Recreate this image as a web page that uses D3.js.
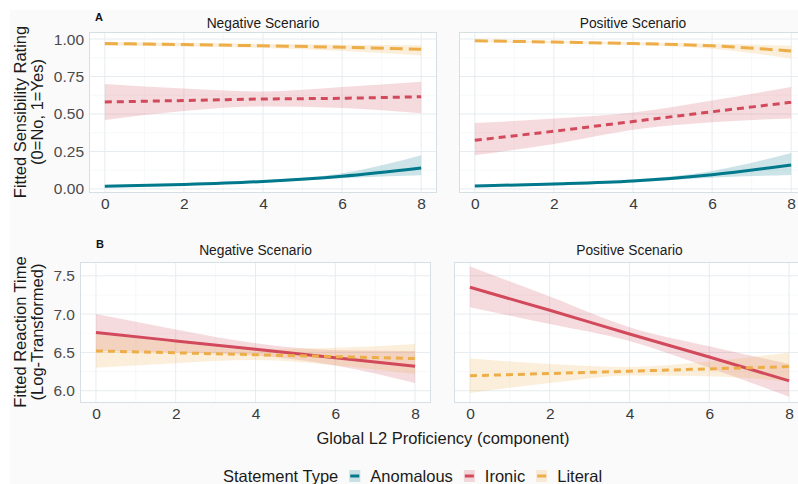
<!DOCTYPE html>
<html>
<head>
<meta charset="utf-8">
<script src="https://cdn.jsdelivr.net/npm/d3@7"></script>
<style>
  body { margin: 0; background: #fff; }
  svg { display: block; font-family: "Liberation Sans", Arial, sans-serif; }
</style>
</head>
<body>
<div class="container"></div>
<script>
// proficiency values where fits were read
const xs = [0, 2, 4, 6, 8];
const xTicks = [0, 2, 4, 6, 8];
const typeNames = ['Anomalous', 'Ironic', 'Literal'];
const colors = ['#00798c', '#d1495b', '#edae49'];

// panel A: fitted sensibility rating
const aTicks = [0, 0.25, 0.5, 0.75, 1];
const aNegAnomFit = [0.018, 0.03, 0.05, 0.085, 0.14];
const aNegAnomLo = [0.012, 0.022, 0.042, 0.072, 0.092];
const aNegAnomHi = [0.024, 0.038, 0.058, 0.105, 0.225];
const aNegIronFit = [0.58, 0.59, 0.6, 0.605, 0.615];
const aNegIronLo = [0.46, 0.52, 0.55, 0.54, 0.505];
const aNegIronHi = [0.7, 0.67, 0.65, 0.68, 0.715];
const aNegLitFit = [0.97, 0.963, 0.955, 0.945, 0.932];
const aNegLitLo = [0.955, 0.95, 0.94, 0.92, 0.89];
const aNegLitHi = [0.98, 0.975, 0.968, 0.962, 0.958];

const aPosAnomFit = [0.02, 0.033, 0.053, 0.095, 0.16];
const aPosAnomLo = [0.013, 0.025, 0.045, 0.075, 0.093];
const aPosAnomHi = [0.028, 0.042, 0.063, 0.12, 0.24];
const aPosIronFit = [0.325, 0.385, 0.45, 0.515, 0.578];
const aPosIronLo = [0.225, 0.3, 0.395, 0.445, 0.47];
const aPosIronHi = [0.44, 0.47, 0.51, 0.59, 0.68];
const aPosLitFit = [0.988, 0.98, 0.97, 0.955, 0.92];
const aPosLitLo = [0.98, 0.972, 0.96, 0.935, 0.87];
const aPosLitHi = [0.993, 0.987, 0.978, 0.968, 0.955];

// panel B: fitted reaction time (log)
const bTicks = [6.0, 6.5, 7.0, 7.5];
const bNegIronFit = [6.76, 6.65, 6.54, 6.43, 6.32];
const bNegIronLo = [6.52, 6.5, 6.46, 6.33, 6.1];
const bNegIronHi = [7.0, 6.8, 6.62, 6.53, 6.52];
const bNegLitFit = [6.52, 6.495, 6.47, 6.445, 6.42];
const bNegLitLo = [6.3, 6.36, 6.4, 6.33, 6.22];
const bNegLitHi = [6.74, 6.63, 6.54, 6.56, 6.61];

const bPosIronFit = [7.35, 7.05, 6.74, 6.44, 6.13];
const bPosIronLo = [7.09, 6.87, 6.65, 6.3, 5.92];
const bPosIronHi = [7.62, 7.23, 6.83, 6.58, 6.35];
const bPosLitFit = [6.195, 6.225, 6.255, 6.285, 6.315];
const bPosLitLo = [5.97, 6.1, 6.2, 6.19, 6.12];
const bPosLitHi = [6.42, 6.35, 6.31, 6.38, 6.5];

const width = 798;
const height = 484;

const svg = d3.select('.container')
  .append('svg')
  .attr('width', width)
  .attr('height', height);

svg.append('rect')
  .attr('x', 10).attr('y', 10)
  .attr('width', width - 10).attr('height', height - 10)
  .attr('fill', '#fafafb');

const dashes = { solid: null, dashed: '7,5', longdash: '13,6' };

function series(fit, lo, hi, type, dash) {
  const values = xs.map((x, i) => ({ x, fit: fit[i], lo: lo[i], hi: hi[i] }));
  return { type, dash, values };
}

function drawPanel(opts) {
  const x = d3.scaleLinear().domain([-0.4, 8.4]).range([opts.left, opts.right]);
  const y = d3.scaleLinear().domain(opts.yDomain).range([opts.bottom, opts.top]);

  const clipId = 'clip' + opts.id;
  svg.append('clipPath').attr('id', clipId)
    .append('rect')
    .attr('x', opts.left).attr('y', opts.top)
    .attr('width', opts.right - opts.left).attr('height', opts.bottom - opts.top);

  const g = svg.append('g');

  g.append('rect')
    .attr('x', opts.left).attr('y', opts.top)
    .attr('width', opts.right - opts.left).attr('height', opts.bottom - opts.top)
    .attr('fill', '#ffffff');

  // minor grid
  const minorX = d3.range(1, 8, 2);
  const step = opts.ticks[1] - opts.ticks[0];
  const minorY = opts.ticks.map((t) => t + step / 2).filter((t) => t < opts.yDomain[1]);
  g.selectAll('.mx').data(minorX).enter().append('line')
    .attr('x1', (d) => x(d)).attr('x2', (d) => x(d))
    .attr('y1', opts.top).attr('y2', opts.bottom)
    .attr('stroke', '#f2f5f7').attr('stroke-width', 0.6);
  g.selectAll('.my').data(minorY).enter().append('line')
    .attr('x1', opts.left).attr('x2', opts.right)
    .attr('y1', (d) => y(d)).attr('y2', (d) => y(d))
    .attr('stroke', '#f2f5f7').attr('stroke-width', 0.6);

  // major grid
  g.selectAll('.gx').data(xTicks).enter().append('line')
    .attr('x1', (d) => x(d)).attr('x2', (d) => x(d))
    .attr('y1', opts.top).attr('y2', opts.bottom)
    .attr('stroke', '#e6ecef').attr('stroke-width', 1);
  g.selectAll('.gy').data(opts.ticks).enter().append('line')
    .attr('x1', opts.left).attr('x2', opts.right)
    .attr('y1', (d) => y(d)).attr('y2', (d) => y(d))
    .attr('stroke', '#e6ecef').attr('stroke-width', 1);

  const area = d3.area()
    .x((d) => x(d.x)).y0((d) => y(d.lo)).y1((d) => y(d.hi))
    .curve(d3.curveMonotoneX);
  const line = d3.line()
    .x((d) => x(d.x)).y((d) => y(d.fit))
    .curve(d3.curveMonotoneX);

  const plot = g.append('g').attr('clip-path', `url(#${clipId})`);

  plot.selectAll('.band').data(opts.series).enter().append('path')
    .attr('d', (s) => area(s.values))
    .attr('fill', (s) => colors[s.type])
    .attr('fill-opacity', 0.2);

  plot.selectAll('.fit').data(opts.series).enter().append('path')
    .attr('d', (s) => line(s.values))
    .attr('fill', 'none')
    .attr('stroke', (s) => colors[s.type])
    .attr('stroke-width', 3)
    .attr('stroke-dasharray', (s) => dashes[s.dash]);

  g.append('rect')
    .attr('x', opts.left + 0.5).attr('y', opts.top + 0.5)
    .attr('width', opts.right - opts.left - 1).attr('height', opts.bottom - opts.top - 1)
    .attr('fill', 'none')
    .attr('stroke', '#d5e0e5').attr('stroke-width', 1);

  // axes
  const xAxis = d3.axisBottom(x).tickValues(xTicks).tickSize(0).tickPadding(5);
  const xg = svg.append('g')
    .attr('transform', `translate(0, ${opts.bottom})`)
    .call(xAxis);
  xg.select('.domain').remove();
  xg.selectAll('text')
    .attr('font-size', 15.5).attr('fill', '#3a3a3a')
    .attr('font-family', '"Liberation Sans", Arial, sans-serif');

  if (opts.yFormat) {
    const yAxis = d3.axisLeft(y).tickValues(opts.ticks).tickSize(0).tickPadding(5)
      .tickFormat(opts.yFormat);
    const yg = svg.append('g')
      .attr('transform', `translate(${opts.left}, 0)`)
      .call(yAxis);
    yg.select('.domain').remove();
    yg.selectAll('text')
      .attr('font-size', 15.5).attr('fill', '#4a4a4a')
      .attr('font-family', '"Liberation Sans", Arial, sans-serif');
  }

  svg.append('text')
    .attr('x', (opts.left + opts.right) / 2)
    .attr('y', opts.top - opts.titleGap)
    .attr('text-anchor', 'middle')
    .attr('font-size', 13.8)
    .attr('fill', '#1a1a1a')
    .text(opts.title);
}

const aDomain = [-0.027, 1.047];
const bDomain = [5.84, 7.68];

drawPanel({
  id: 'an', left: 89, right: 437, top: 32, bottom: 193, titleGap: 4,
  yDomain: aDomain, ticks: aTicks, yFormat: d3.format('.2f'),
  title: 'Negative Scenario',
  series: [
    series(aNegIronFit, aNegIronLo, aNegIronHi, 1, 'dashed'),
    series(aNegLitFit, aNegLitLo, aNegLitHi, 2, 'longdash'),
    series(aNegAnomFit, aNegAnomLo, aNegAnomHi, 0, 'solid'),
  ],
});
drawPanel({
  id: 'ap', left: 459, right: 807, top: 32, bottom: 193, titleGap: 4,
  yDomain: aDomain, ticks: aTicks, yFormat: null,
  title: 'Positive Scenario',
  series: [
    series(aPosIronFit, aPosIronLo, aPosIronHi, 1, 'dashed'),
    series(aPosLitFit, aPosLitLo, aPosLitHi, 2, 'longdash'),
    series(aPosAnomFit, aPosAnomLo, aPosAnomHi, 0, 'solid'),
  ],
});
drawPanel({
  id: 'bn', left: 80, right: 431, top: 262, bottom: 403, titleGap: 7,
  yDomain: bDomain, ticks: bTicks, yFormat: d3.format('.1f'),
  title: 'Negative Scenario',
  series: [
    series(bNegIronFit, bNegIronLo, bNegIronHi, 1, 'solid'),
    series(bNegLitFit, bNegLitLo, bNegLitHi, 2, 'dashed'),
  ],
});
drawPanel({
  id: 'bp', left: 454, right: 805, top: 262, bottom: 403, titleGap: 7,
  yDomain: bDomain, ticks: bTicks, yFormat: null,
  title: 'Positive Scenario',
  series: [
    series(bPosIronFit, bPosIronLo, bPosIronHi, 1, 'solid'),
    series(bPosLitFit, bPosLitLo, bPosLitHi, 2, 'dashed'),
  ],
});

// tags
svg.append('text').attr('x', 95).attr('y', 21)
  .attr('font-size', 11).attr('font-weight', 'bold').attr('fill', '#111').text('A');
svg.append('text').attr('x', 96).attr('y', 248)
  .attr('font-size', 11).attr('font-weight', 'bold').attr('fill', '#111').text('B');

// y titles
function yTitle(lines, cy) {
  const t = svg.append('text')
    .attr('transform', `translate(20, ${cy}) rotate(-90)`)
    .attr('text-anchor', 'middle')
    .attr('font-size', 16.5)
    .attr('fill', '#1a1a1a');
  lines.forEach((l, i) => {
    t.append('tspan').attr('x', 0).attr('y', 6 + i * 17).text(l);
  });
}
yTitle(['Fitted Sensibility Rating', '(0=No, 1=Yes)'], 112);
yTitle(['Fitted Reaction Time', '(Log-Transformed)'], 332);

// x title
svg.append('text')
  .attr('x', 443).attr('y', 444)
  .attr('text-anchor', 'middle')
  .attr('font-size', 16.5)
  .attr('fill', '#1a1a1a')
  .text('Global L2 Proficiency (component)');

// legend
const legend = svg.append('g').attr('transform', 'translate(223, 476)');
const legTitle = legend.append('text')
  .attr('y', 6).attr('font-size', 16.5).attr('fill', '#1a1a1a')
  .text('Statement Type');
let cx = legTitle.node().getComputedTextLength() + 11;
typeNames.forEach((name, i) => {
  legend.append('rect')
    .attr('x', cx).attr('y', -6).attr('width', 11).attr('height', 12)
    .attr('fill', colors[i]).attr('fill-opacity', 0.2);
  legend.append('line')
    .attr('x1', cx + 1).attr('x2', cx + 10)
    .attr('y1', 0).attr('y2', 0)
    .attr('stroke', colors[i]).attr('stroke-width', 3);
  cx += 11 + 10;
  const t = legend.append('text')
    .attr('x', cx).attr('y', 6).attr('font-size', 16.5).attr('fill', '#1a1a1a')
    .text(name);
  cx += t.node().getComputedTextLength() + 11;
});
</script>
</body>
</html>
